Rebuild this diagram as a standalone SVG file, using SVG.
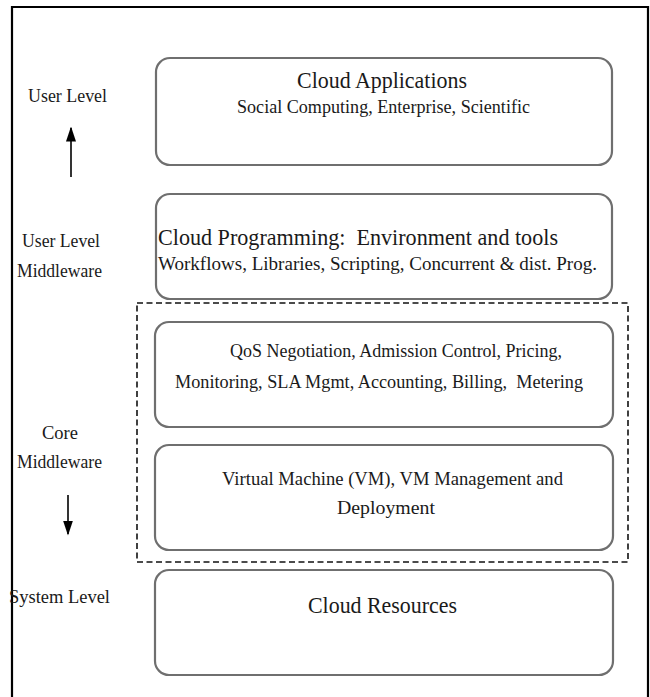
<svg xmlns="http://www.w3.org/2000/svg" width="650" height="697" viewBox="0 0 650 697">
  <style>
    .layer { fill: #ffffff; stroke: #6f6f6f; stroke-width: 2.2; }
    .core { fill: none; stroke: #111111; stroke-width: 1.6; stroke-dasharray: 6 3.5; }
    .frame { fill: none; stroke: #000000; stroke-width: 2.2; }
    text { font-family: "Liberation Serif", "Tinos", "Times New Roman", "DejaVu Serif", serif; fill: #1a1a1a; white-space: pre; }
    .title { font-size: 23px; }
    .sub { font-size: 19px; }
    .lbl { font-size: 18px; }
    .arrow { stroke: #000000; stroke-width: 1.6; fill: none; }
  </style>
  <defs>
    <marker id="head" viewBox="0 0 10 10" refX="9" refY="5" markerWidth="15" markerHeight="10" markerUnits="userSpaceOnUse" orient="auto" preserveAspectRatio="none">
      <path d="M0,0 L10,5 L0,10 Z" fill="#000000"/>
    </marker>
  </defs>

  <rect width="650" height="697" fill="#ffffff"/>

  <!-- page frame: open at the bottom -->
  <path class="frame" d="M12,697 V7 H648 V697"/>

  <!-- level labels on the left -->
  <g id="labels">
    <text class="lbl" x="28" y="102" textLength="79" lengthAdjust="spacingAndGlyphs">User Level</text>
    <text class="lbl" x="22" y="247" textLength="78" lengthAdjust="spacingAndGlyphs">User Level</text>
    <text class="lbl" x="17" y="277" textLength="85" lengthAdjust="spacingAndGlyphs">Middleware</text>
    <text class="lbl" x="42" y="439" textLength="36" lengthAdjust="spacingAndGlyphs">Core</text>
    <text class="lbl" x="17" y="468" textLength="85" lengthAdjust="spacingAndGlyphs">Middleware</text>
    <text class="lbl" x="9" y="603" textLength="101" lengthAdjust="spacingAndGlyphs">System Level</text>
  </g>

  <!-- direction arrows -->
  <g id="connectors">
    <line class="arrow" x1="71" y1="177" x2="71" y2="128" marker-end="url(#head)"/>
    <line class="arrow" x1="68" y1="495" x2="68" y2="534" marker-end="url(#head)"/>
  </g>

  <!-- core middleware boundary -->
  <rect id="core-middleware" class="core" x="137" y="303" width="491" height="259"/>

  <g id="cloud-applications">
    <rect class="layer" x="156" y="58" width="456" height="107" rx="14"/>
    <text class="title" x="297" y="88" textLength="170" lengthAdjust="spacingAndGlyphs">Cloud Applications</text>
    <text class="sub" x="237" y="113" textLength="293" lengthAdjust="spacingAndGlyphs">Social Computing, Enterprise, Scientific</text>
  </g>

  <g id="cloud-programming">
    <rect class="layer" x="156" y="194" width="456" height="105" rx="14"/>
    <text class="title" x="158" y="245" textLength="400" lengthAdjust="spacingAndGlyphs">Cloud Programming:  Environment and tools</text>
    <text class="sub" x="158" y="270" textLength="439" lengthAdjust="spacingAndGlyphs">Workflows, Libraries, Scripting, Concurrent &amp; dist. Prog.</text>
  </g>

  <g id="qos-management">
    <rect class="layer" x="155" y="322" width="458" height="105" rx="14"/>
    <text class="sub" x="230" y="357" textLength="332" lengthAdjust="spacingAndGlyphs">QoS Negotiation, Admission Control, Pricing,</text>
    <text class="sub" x="175" y="388" textLength="408" lengthAdjust="spacingAndGlyphs">Monitoring, SLA Mgmt, Accounting, Billing,  Metering</text>
  </g>

  <g id="vm-management">
    <rect class="layer" x="155" y="445" width="458" height="105" rx="14"/>
    <text class="sub" x="222" y="485" textLength="341" lengthAdjust="spacingAndGlyphs">Virtual Machine (VM), VM Management and</text>
    <text class="sub" x="337" y="514" textLength="98" lengthAdjust="spacingAndGlyphs">Deployment</text>
  </g>

  <g id="cloud-resources">
    <rect class="layer" x="155" y="570" width="458" height="105" rx="14"/>
    <text class="title" x="308" y="613" textLength="149" lengthAdjust="spacingAndGlyphs">Cloud Resources</text>
  </g>
</svg>
